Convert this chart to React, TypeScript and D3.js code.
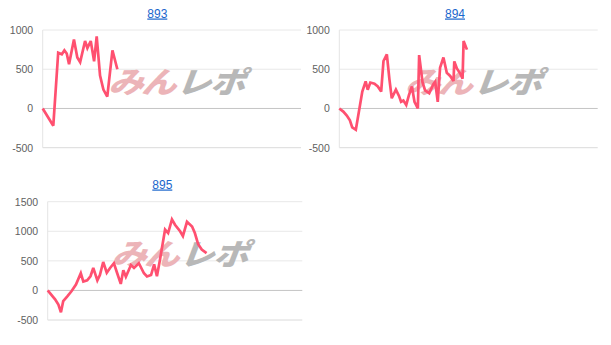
import React from "react";
import * as d3 from "d3";

const titles = ["893", "894", "895"];

const x893 = [0, 4.1, 6.0, 7.4, 8.4, 9.3, 10.2, 12.1, 13.4, 14.5, 16.4, 17.3, 18.6, 19.9, 20.9, 22.2, 23.5, 25.0, 27.0, 28.9];
const y893 = [0, -220, 710, 690, 740, 700, 565, 880, 650, 590, 860, 770, 860, 600, 920, 420, 240, 150, 740, 500];

const x894 = [0, 1.55, 2.9, 4.1, 5.0, 6.4, 8.9, 10.2, 11.0, 12.0, 13.6, 14.9, 16.2, 17.1, 18.4, 19.4, 20.3, 21.9, 23.1, 23.9, 24.8, 25.9, 27.0, 28.1, 29.1, 30.4, 30.9, 32.2, 33.2, 34.8, 36.4, 37.1, 38.1, 39.0, 40.3, 41.6, 42.9, 44.2, 44.5, 45.5, 46.8, 47.7, 48.1, 49.4];
const y894 = [0, -40, -90, -150, -240, -270, 215, 345, 238, 330, 315, 280, 215, 605, 690, 370, 130, 240, 160, 85, 100, 45, 175, 280, 85, 0, 680, 335, 230, 195, 310, 340, 85, 520, 650, 455, 415, 350, 600, 510, 445, 380, 860, 750];

const x895 = [0, 2.9, 4.2, 5.2, 6.1, 7.7, 9.4, 11.1, 13.0, 14.0, 15.5, 16.8, 17.9, 19.5, 20.5, 21.8, 23.2, 24.5, 26.0, 27.3, 28.7, 29.7, 30.7, 32.7, 33.9, 35.8, 37.8, 39.0, 40.6, 41.8, 42.9, 44.1, 46.1, 47.3, 48.8, 50.0, 52.0, 53.1, 54.7, 56.7, 57.8, 59.1, 60.5, 62.4];
const y895 = [0, -150, -240, -370, -180, -100, -10, 100, 290, 150, 170, 240, 380, 170, 260, 480, 300, 380, 460, 290, 110, 340, 230, 430, 380, 460, 290, 235, 260, 440, 240, 520, 1030, 970, 1200, 1110, 1000, 920, 1160, 1080, 970, 780, 690, 630];

const ticksA = [-500, 0, 500, 1000];
const ticksB = [-500, 0, 500, 1000, 1500];

const xDomain: [number, number] = [0, 100];

type Panel = {
  title: string;
  xs: number[];
  ys: number[];
  ticks: number[];
  left: number;
  right: number;
  top: number;
  bottom: number;
  titleX: number;
  titleY: number;
};

const panels: Panel[] = [
  { title: titles[0], xs: x893, ys: y893, ticks: ticksA, left: 42.7, right: 301, top: 30, bottom: 147.7, titleX: 157.3, titleY: 17.5 },
  { title: titles[1], xs: x894, ys: y894, ticks: ticksA, left: 339.3, right: 597.7, top: 30, bottom: 147.7, titleX: 455, titleY: 17.5 },
  { title: titles[2], xs: x895, ys: y895, ticks: ticksB, left: 47.7, right: 302.3, top: 201.7, bottom: 320, titleX: 162.3, titleY: 188.5 },
];

function ChartPanel({ p }: { p: Panel }) {
  const x = d3.scaleLinear().domain(xDomain).range([p.left, p.right]);
  const y = d3
    .scaleLinear()
    .domain([p.ticks[0], p.ticks[p.ticks.length - 1]])
    .range([p.bottom, p.top]);
  const pts: [number, number][] = p.xs.map((v, i) => [v, p.ys[i]]);
  const line = d3
    .line<[number, number]>()
    .x((d) => x(d[0]))
    .y((d) => y(d[1]));
  const cx = (p.left + p.right) / 2 + 4;
  const cy = (p.top + p.bottom) / 2 - 6.5;
  return (
    <g>
      <text
        x={p.titleX}
        y={p.titleY}
        textAnchor="middle"
        fontFamily="'Liberation Sans', Arial, sans-serif"
        fontSize={12}
        fill="#1a66cc"
        textDecoration="underline"
      >
        {p.title}
      </text>
      {p.ticks.map((t) => (
        <line
          key={"g" + t}
          x1={p.left}
          x2={p.right}
          y1={y(t)}
          y2={y(t)}
          stroke={t === 0 ? "#c4c4c4" : t === p.ticks[0] ? "#dadada" : "#e8e8e8"}
          strokeWidth={1}
        />
      ))}
      <line x1={p.left} x2={p.left} y1={p.top} y2={p.bottom} stroke="#e4e4e4" strokeWidth={1} />
      {p.ticks.map((t) => (
        <text
          key={"t" + t}
          x={p.left - 9.5}
          y={y(t) + 3.8}
          textAnchor="end"
          fontFamily="'Liberation Sans', Arial, sans-serif"
          fontSize={10.5}
          fill="#5f5f5f"
        >
          {t}
        </text>
      ))}
      <g transform={`translate(${cx},${cy + 11}) scale(1.06,0.9) skewX(-18)`}>
        <text
          x={-2}
          y={0}
          textAnchor="end"
          fontFamily="'Noto Sans CJK JP', sans-serif"
          fontWeight={900}
          fontSize={33}
          fill="#ecb4b8"
          letterSpacing={-2}
        >
          みん
        </text>
        <text
          x={0}
          y={0}
          textAnchor="start"
          fontFamily="'Noto Sans CJK JP', sans-serif"
          fontWeight={900}
          fontSize={33}
          fill="#b8b8b8"
          letterSpacing={-1}
        >
          レポ
        </text>
      </g>
      <path d={line(pts) || ""} fill="none" stroke="#ff5070" strokeWidth={2.7} strokeLinejoin="miter" strokeMiterlimit={3} />
    </g>
  );
}

export default function App() {
  return (
    <svg
      width={611}
      height={345}
      style={{ position: "absolute", left: 0, top: 0, background: "#fff" }}
    >
      {panels.map((p) => (
        <ChartPanel key={p.title} p={p} />
      ))}
    </svg>
  );
}
